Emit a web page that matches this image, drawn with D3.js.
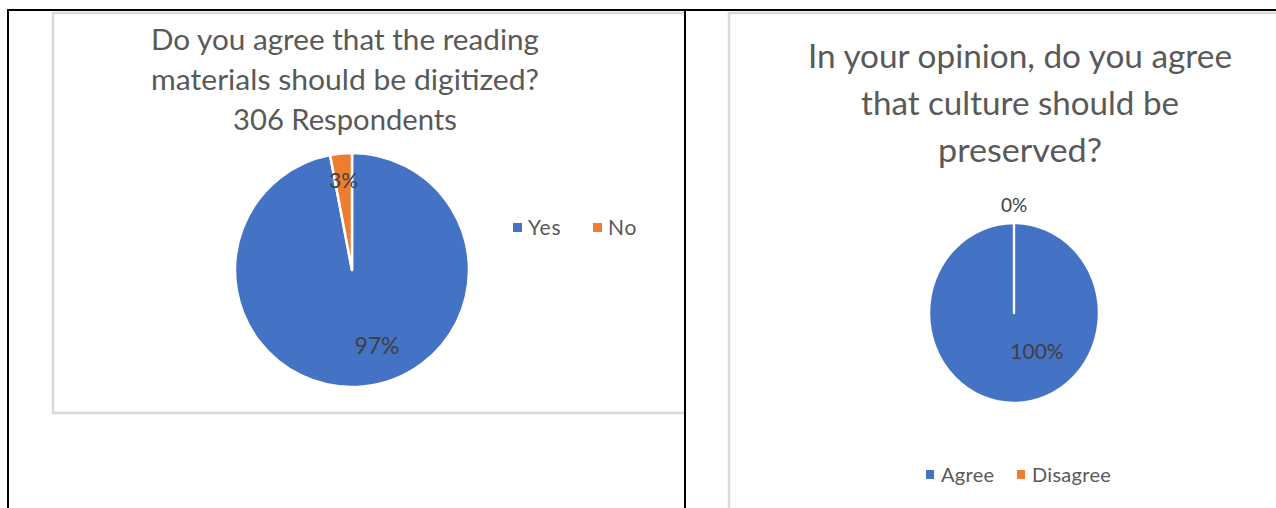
<!DOCTYPE html>
<html>
<head>
<meta charset="utf-8">
<script src="https://cdn.jsdelivr.net/npm/d3@7"></script>
<style>
  body { margin: 0; background: #fff; }
  text { font-family: Lato, "Open Sans", sans-serif; }
</style>
</head>
<body>
<div id="chart"></div>
<script>
/************ Data ************/
var digitizeLabels = ["Yes", "No"],
	digitizeValues = [97, 3],
	digitizeTitle = ["Do you agree that the reading", "materials should be digitized?", "306 Respondents"];

var cultureLabels = ["Agree", "Disagree"],
	cultureValues = [100, 0],
	cultureTitle = ["In your opinion, do you agree", "that culture should be", "preserved?"];

/************ Layout ************/
var width = 1276,
	height = 508,
	colors = ["#4472C4", "#ED7D31"];

var color = d3.scaleOrdinal().domain([0, 1]).range(colors);

var svg = d3.select("#chart").append("svg")
	.attr("width", width)
	.attr("height", height);

svg.append("rect").attr("width", width).attr("height", height).attr("fill", "#fff");

// chart frames (gray), the left one is cut by the table border
svg.append("rect")
	.attr("x", 53).attr("y", 13)
	.attr("width", 632).attr("height", 400)
	.attr("fill", "none").attr("stroke", "#d9d9d9").attr("stroke-width", 2.5);
svg.append("rect")
	.attr("x", 729).attr("y", 13)
	.attr("width", 700).attr("height", 700)
	.attr("fill", "none").attr("stroke", "#d9d9d9").attr("stroke-width", 2.5);

// table borders (black)
svg.append("line").attr("x1", 7).attr("x2", width).attr("y1", 10).attr("y2", 10)
	.attr("stroke", "#000").attr("stroke-width", 2);
svg.append("line").attr("x1", 8).attr("x2", 8).attr("y1", 9).attr("y2", height)
	.attr("stroke", "#000").attr("stroke-width", 2);
svg.append("line").attr("x1", 685).attr("x2", 685).attr("y1", 9).attr("y2", height)
	.attr("stroke", "#000").attr("stroke-width", 2);

/************ Charts ************/
drawPie({
	labels: digitizeLabels, values: digitizeValues, title: digitizeTitle,
	cx: 352, cy: 270, r: 117, sx: 1,
	titleX: 345, titleY: 50, titleSize: 28, titleStep: 40,
	titleWidths: [388, 388, 224],
	labelSize: 21, labelRadius: 0.77, bigNudge: [25, 76],
	legendX: 513, legendY: 228, legendSize: 21, legendSpacing: 0.8, legendGap: 80
});

drawPie({
	labels: cultureLabels, values: cultureValues, title: cultureTitle,
	cx: 1014, cy: 313, r: 90, sx: 0.944,
	titleX: 1020, titleY: 68, titleSize: 32, titleStep: 47,
	titleWidths: [424, 318, 164],
	labelSize: 19, labelRadius: 1.2, bigNudge: [23, 39],
	legendX: 926, legendY: 475, legendSize: 20, legendSpacing: 0.3, legendGap: 91
});

/* draws one pie with its title, data labels and legend */
function drawPie(o) {
	var g = svg.append("g");

	// title
	g.selectAll(".title")
		.data(o.title)
		.enter().append("text")
			.attr("class", "title")
			.attr("x", o.titleX)
			.attr("y", function(d, i) { return o.titleY + i * o.titleStep; })
			.attr("text-anchor", "middle")
			.attr("font-size", o.titleSize)
			.attr("fill", "#595959")
			.attr("textLength", function(d, i) { return o.titleWidths[i]; })
			.attr("lengthAdjust", "spacingAndGlyphs")
			.text(function(d) { return d; });

	var pie = d3.pie().sort(null)(o.values);
	var arc = d3.arc().innerRadius(0).outerRadius(o.r);
	var labelArc = d3.arc().innerRadius(o.r * o.labelRadius).outerRadius(o.r * o.labelRadius);

	var pg = g.append("g")
		.attr("transform", "translate(" + o.cx + "," + o.cy + ") scale(" + o.sx + ",1)");

	pg.selectAll(".slice")
		.data(pie)
		.enter().append("path")
			.attr("class", "slice")
			.attr("d", arc)
			.attr("fill", function(d, i) { return color(i); })
			.attr("stroke", "#fff")
			.attr("stroke-width", 2.5)
			.attr("stroke-linejoin", "round");

	var total = d3.sum(o.values);
	pg.selectAll(".pct")
		.data(pie)
		.enter().append("text")
			.attr("class", "pct")
			.attr("transform", function(d) {
				var c = labelArc.centroid(d);
				// the big slice label sits off-centre, as in the original
				if (d.value / total > 0.5) {
					c = [o.bigNudge[0] / o.sx, o.bigNudge[1]];
				}
				return "translate(" + c[0] + "," + c[1] + ") scale(" + (1 / o.sx) + ",1)";
			})
			.attr("text-anchor", "middle")
			.attr("dy", "0.35em")
			.attr("font-size", function(d) { return d.value / total > 0.5 ? o.labelSize + 2 : o.labelSize; })
			.attr("fill", "#404040")
			.text(function(d) { return Math.round(d.value / total * 100) + "%"; });

	// legend
	var lg = g.append("g")
		.attr("transform", "translate(" + o.legendX + "," + o.legendY + ")");
	var item = lg.selectAll(".item")
		.data(o.labels)
		.enter().append("g")
			.attr("class", "item")
			.attr("transform", function(d, i) { return "translate(" + (i * o.legendGap) + ",0)"; });
	item.append("rect")
		.attr("x", 0).attr("y", -5)
		.attr("width", 9 * o.sx * o.sx).attr("height", 9)
		.attr("fill", function(d, i) { return color(i); });
	item.append("text")
		.attr("x", 15)
		.attr("dy", "0.35em")
		.attr("font-size", o.legendSize)
		.attr("letter-spacing", o.legendSpacing)
		.attr("fill", "#595959")
		.text(function(d) { return d; });
}
</script>
</body>
</html>
